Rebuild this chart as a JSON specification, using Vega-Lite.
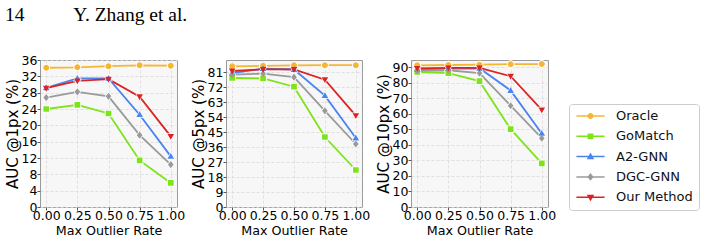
{
  "$schema": "https://vega.github.io/schema/vega-lite/v6.json",
  "padding": {"left": 5, "top": 5, "right": 0, "bottom": 0},
  "autosize": {"type": "pad"},
  "background": "white",
  "title": {"text": "14\u00a0\u00a0\u00a0\u00a0\u00a0\u00a0\u00a0\u00a0\u00a0\u00a0Y. Zhang et al.", "anchor": "start", "frame": "bounds", "font": "Liberation Serif", "fontSize": 19.5, "fontWeight": "normal", "color": "#000000", "offset": 28},
  "datasets": {
    "p1": [
      {"method": "Oracle", "rate": 0, "auc": 34.1}, {"method": "Oracle", "rate": 0.25, "auc": 34.2}, {"method": "Oracle", "rate": 0.5, "auc": 34.5}, {"method": "Oracle", "rate": 0.75, "auc": 34.7}, {"method": "Oracle", "rate": 1, "auc": 34.6},
      {"method": "GoMatch", "rate": 0, "auc": 24.0}, {"method": "GoMatch", "rate": 0.25, "auc": 25.0}, {"method": "GoMatch", "rate": 0.5, "auc": 22.9}, {"method": "GoMatch", "rate": 0.75, "auc": 11.4}, {"method": "GoMatch", "rate": 1, "auc": 5.9},
      {"method": "A2-GNN", "rate": 0, "auc": 29.2}, {"method": "A2-GNN", "rate": 0.25, "auc": 31.5}, {"method": "A2-GNN", "rate": 0.5, "auc": 31.5}, {"method": "A2-GNN", "rate": 0.75, "auc": 22.6}, {"method": "A2-GNN", "rate": 1, "auc": 12.4},
      {"method": "DGC-GNN", "rate": 0, "auc": 26.8}, {"method": "DGC-GNN", "rate": 0.25, "auc": 28.2}, {"method": "DGC-GNN", "rate": 0.5, "auc": 27.1}, {"method": "DGC-GNN", "rate": 0.75, "auc": 17.6}, {"method": "DGC-GNN", "rate": 1, "auc": 10.4},
      {"method": "Our Method", "rate": 0, "auc": 29.1}, {"method": "Our Method", "rate": 0.25, "auc": 30.9}, {"method": "Our Method", "rate": 0.5, "auc": 31.3}, {"method": "Our Method", "rate": 0.75, "auc": 27.0}, {"method": "Our Method", "rate": 1, "auc": 17.3}
    ],
    "p2": [
      {"method": "Oracle", "rate": 0, "auc": 84.4}, {"method": "Oracle", "rate": 0.25, "auc": 84.7}, {"method": "Oracle", "rate": 0.5, "auc": 85.0}, {"method": "Oracle", "rate": 0.75, "auc": 85.1}, {"method": "Oracle", "rate": 1, "auc": 85.1},
      {"method": "GoMatch", "rate": 0, "auc": 77.4}, {"method": "GoMatch", "rate": 0.25, "auc": 77.2}, {"method": "GoMatch", "rate": 0.5, "auc": 72.2}, {"method": "GoMatch", "rate": 0.75, "auc": 42.0}, {"method": "GoMatch", "rate": 1, "auc": 22.2},
      {"method": "A2-GNN", "rate": 0, "auc": 80.3}, {"method": "A2-GNN", "rate": 0.25, "auc": 83.0}, {"method": "A2-GNN", "rate": 0.5, "auc": 82.5}, {"method": "A2-GNN", "rate": 0.75, "auc": 66.8}, {"method": "A2-GNN", "rate": 1, "auc": 41.4},
      {"method": "DGC-GNN", "rate": 0, "auc": 79.4}, {"method": "DGC-GNN", "rate": 0.25, "auc": 80.0}, {"method": "DGC-GNN", "rate": 0.5, "auc": 77.9}, {"method": "DGC-GNN", "rate": 0.75, "auc": 57.7}, {"method": "DGC-GNN", "rate": 1, "auc": 37.8},
      {"method": "Our Method", "rate": 0, "auc": 81.6}, {"method": "Our Method", "rate": 0.25, "auc": 82.6}, {"method": "Our Method", "rate": 0.5, "auc": 82.6}, {"method": "Our Method", "rate": 0.75, "auc": 76.4}, {"method": "Our Method", "rate": 1, "auc": 54.8}
    ],
    "p3": [
      {"method": "Oracle", "rate": 0, "auc": 91.1}, {"method": "Oracle", "rate": 0.25, "auc": 91.3}, {"method": "Oracle", "rate": 0.5, "auc": 91.5}, {"method": "Oracle", "rate": 0.75, "auc": 91.8}, {"method": "Oracle", "rate": 1, "auc": 91.9},
      {"method": "GoMatch", "rate": 0, "auc": 86.8}, {"method": "GoMatch", "rate": 0.25, "auc": 86.1}, {"method": "GoMatch", "rate": 0.5, "auc": 80.9}, {"method": "GoMatch", "rate": 0.75, "auc": 50.0}, {"method": "GoMatch", "rate": 1, "auc": 28.0},
      {"method": "A2-GNN", "rate": 0, "auc": 88.3}, {"method": "A2-GNN", "rate": 0.25, "auc": 89.0}, {"method": "A2-GNN", "rate": 0.5, "auc": 89.2}, {"method": "A2-GNN", "rate": 0.75, "auc": 74.9}, {"method": "A2-GNN", "rate": 1, "auc": 47.3},
      {"method": "DGC-GNN", "rate": 0, "auc": 87.6}, {"method": "DGC-GNN", "rate": 0.25, "auc": 87.9}, {"method": "DGC-GNN", "rate": 0.5, "auc": 86.0}, {"method": "DGC-GNN", "rate": 0.75, "auc": 65.1}, {"method": "DGC-GNN", "rate": 1, "auc": 44.2},
      {"method": "Our Method", "rate": 0, "auc": 89.1}, {"method": "Our Method", "rate": 0.25, "auc": 89.5}, {"method": "Our Method", "rate": 0.5, "auc": 89.5}, {"method": "Our Method", "rate": 0.75, "auc": 84.1}, {"method": "Our Method", "rate": 1, "auc": 62.5}
    ]
  },
  "bounds": "flush",
  "spacing": 49,
  "hconcat": [
    {
      "width": 137, "height": 147,
      "data": {"name": "p1"},
      "encoding": {
        "x": {"field": "rate", "type": "quantitative", "scale": {"domain": [-0.05, 1.05], "nice": false, "zero": false}, "axis": {"values": [0, 0.25, 0.5, 0.75, 1], "format": ".2f", "title": "Max Outlier Rate"}},
        "y": {"field": "auc", "type": "quantitative", "scale": {"domain": [0, 36], "nice": false}, "axis": {"values": [0, 4, 8, 12, 16, 20, 24, 28, 32, 36], "title": "AUC @1px (%)"}},
        "color": {"field": "method", "type": "nominal", "scale": {"domain": ["Oracle", "GoMatch", "A2-GNN", "DGC-GNN", "Our Method"], "range": ["#f5b731", "#7fe31a", "#4a84ee", "#9a9a9a", "#dd2222"]},
          "legend": {
            "title": null, "orient": "none", "legendX": 529, "legendY": 44,
            "labelFont": "DejaVu Sans", "labelFontSize": 13, "labelColor": "#111111",
            "symbolSize": 20, "symbolOffset": 9.5, "labelOffset": 19, "rowPadding": 6.3, "padding": 5.5,
            "strokeColor": "#cccccc", "fillColor": "white", "cornerRadius": 3, "symbolStrokeWidth": 1.5, "symbolOpacity": 1
          }}
      },
      "layer": [
        {"mark": {"type": "line", "strokeWidth": 1.8}},
        {"mark": {"type": "point", "filled": true, "size": 62, "opacity": 1},
         "encoding": {"color": {"value": "white"}, "shape": {"field": "method", "type": "nominal", "legend": null}}},
        {"mark": {"type": "point", "filled": true, "size": 36, "opacity": 1},
         "encoding": {"shape": {"field": "method", "type": "nominal", "scale": {"domain": ["Oracle", "GoMatch", "A2-GNN", "DGC-GNN", "Our Method"], "range": ["M-6.3,0H6.3M1,0A1,1,0,1,1,-1,0A1,1,0,1,1,1,0Z", "M-6.3,0H6.3M-0.95,-0.95H0.95V0.95H-0.95Z", "M-6.3,0H6.3M0,-1.15L1.1,0.8H-1.1Z", "M-6.3,0H6.3M0,-1.2L0.95,0L0,1.2L-0.95,0Z", "M-6.3,0H6.3M0,1.15L1.1,-0.8H-1.1Z"]}, "legend": null}}}
      ]
    },
    {
      "width": 136, "height": 147,
      "data": {"name": "p2"},
      "encoding": {
        "x": {"field": "rate", "type": "quantitative", "scale": {"domain": [-0.05, 1.05], "nice": false, "zero": false}, "axis": {"values": [0, 0.25, 0.5, 0.75, 1], "format": ".2f", "title": "Max Outlier Rate"}},
        "y": {"field": "auc", "type": "quantitative", "scale": {"domain": [0, 88.2], "nice": false}, "axis": {"values": [0, 9, 18, 27, 36, 45, 54, 63, 72, 81], "title": "AUC @5px (%)"}},
        "color": {"field": "method", "type": "nominal", "legend": null}
      },
      "layer": [
        {"mark": {"type": "line", "strokeWidth": 1.8}},
        {"mark": {"type": "point", "filled": true, "size": 62, "opacity": 1},
         "encoding": {"color": {"value": "white"}, "shape": {"field": "method", "type": "nominal", "legend": null}}},
        {"mark": {"type": "point", "filled": true, "size": 36, "opacity": 1},
         "encoding": {"shape": {"field": "method", "type": "nominal", "legend": null}}}
      ]
    },
    {
      "width": 137, "height": 147,
      "data": {"name": "p3"},
      "encoding": {
        "x": {"field": "rate", "type": "quantitative", "scale": {"domain": [-0.05, 1.05], "nice": false, "zero": false}, "axis": {"values": [0, 0.25, 0.5, 0.75, 1], "format": ".2f", "title": "Max Outlier Rate"}},
        "y": {"field": "auc", "type": "quantitative", "scale": {"domain": [0, 94.5], "nice": false}, "axis": {"values": [0, 10, 20, 30, 40, 50, 60, 70, 80, 90], "title": "AUC @10px (%)"}},
        "color": {"field": "method", "type": "nominal", "legend": null}
      },
      "layer": [
        {"mark": {"type": "line", "strokeWidth": 1.8}},
        {"mark": {"type": "point", "filled": true, "size": 62, "opacity": 1},
         "encoding": {"color": {"value": "white"}, "shape": {"field": "method", "type": "nominal", "legend": null}}},
        {"mark": {"type": "point", "filled": true, "size": 36, "opacity": 1},
         "encoding": {"shape": {"field": "method", "type": "nominal", "legend": null}}}
      ]
    }
  ],
  "config": {
    "view": {"stroke": "#9a9a9a", "fill": "#f7f7f7", "strokeWidth": 1},
    "axis": {"labelFont": "DejaVu Sans", "labelFontSize": 12.5, "labelColor": "#000000", "titleFont": "DejaVu Sans", "titleFontWeight": "normal", "titleColor": "#000000", "domain": false, "tickColor": "#555555", "tickSize": 3, "gridColor": "#d9d9d9", "gridDash": [3, 2], "gridWidth": 0.8, "labelOverlap": false, "labelFlush": false},
    "axisX": {"titleFontSize": 12.7, "labelPadding": -1, "titlePadding": 2.5},
    "axisY": {"titleFontSize": 15, "labelPadding": 0, "titlePadding": 0.5}
  }
}
